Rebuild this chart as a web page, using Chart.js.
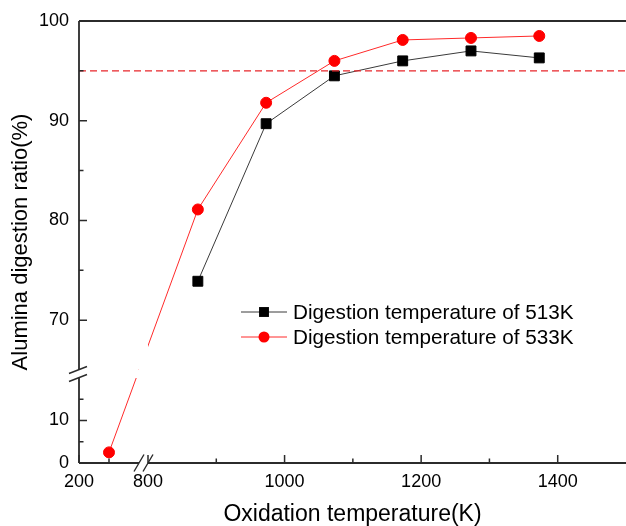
<!DOCTYPE html>
<html>
<head>
<style>
  html, body { margin: 0; padding: 0; background: #fff; }
  canvas { display: block; }
</style>
<title>Alumina digestion ratio</title>
</head>
<body>
<canvas id="chart" width="626" height="526"></canvas>
<script src="https://cdn.jsdelivr.net/npm/chart.js@4/dist/chart.umd.min.js"></script>
<script>
// oxidation temperatures (K) and digestion ratios (%)
var temps513 = [873, 973, 1073, 1173, 1273, 1373];
var ratio513 = [73.9, 89.7, 94.5, 96.0, 97.0, 96.3];
var temps533 = [300, 873, 973, 1073, 1173, 1273, 1373];
var ratio533 = [2.5, 81.1, 91.8, 96.0, 98.1, 98.3, 98.5];
var targetRatio = 95;

var xTickLabels = [200, 800, 1000, 1200, 1400];
var xMinorTicks = [300, 900, 1100, 1300];
var yTickLabels = [0, 10, 70, 80, 90, 100];
var yMinorTicks = [5, 15, 75, 85, 95];

var seriesNames = ['Digestion temperature of 513K', 'Digestion temperature of 533K'];

// broken axes: value ranges with relative lengths, gap = break
var axisSegments = {
  x: [{from: 200, to: 400, weight: 60}, {gap: true, weight: 9}, {from: 800, to: 1500, weight: 478}],
  y: [{from: 0, to: 20, weight: 85}, {gap: true, weight: 8}, {from: 65, to: 100, weight: 349}]
};

class BrokenScale extends Chart.LinearScale {
  segs() { return axisSegments[this.id]; }
  total() { return this.segs().reduce(function (s, g) { return s + g.weight; }, 0); }
  buildTicks() {
    var vals = this.id === 'x' ? xTickLabels : yTickLabels;
    return vals.map(function (v) { return {value: v}; });
  }
  getPixelForValue(value) {
    var segs = this.segs(), acc = 0, ranges = segs.filter(function (g) { return !g.gap; });
    var last = ranges[ranges.length - 1];
    for (var i = 0; i < segs.length; i++) {
      var g = segs[i];
      if (g.gap) { acc += g.weight; continue; }
      if (value <= g.to || g === last) {
        var f = Math.min(1, Math.max(0, (value - g.from) / (g.to - g.from)));
        return this.getPixelForDecimal((acc + f * g.weight) / this.total());
      }
      acc += g.weight;
    }
  }
  getValueForPixel(pixel) {
    var off = this.getDecimalForPixel(pixel) * this.total(), segs = this.segs(), acc = 0;
    for (var i = 0; i < segs.length; i++) {
      var g = segs[i];
      if (off <= acc + g.weight || i === segs.length - 1) {
        if (g.gap) return segs[i + 1].from;
        return g.from + (off - acc) / g.weight * (g.to - g.from);
      }
      acc += g.weight;
    }
  }
  // pixel span of the break on this axis
  gapPixels() {
    var segs = this.segs(), acc = 0, tot = this.total();
    for (var i = 0; i < segs.length; i++) {
      if (segs[i].gap) {
        return [this.getPixelForDecimal(acc / tot), this.getPixelForDecimal((acc + segs[i].weight) / tot)];
      }
      acc += segs[i].weight;
    }
  }
}
BrokenScale.id = 'broken';
BrokenScale.defaults = Chart.LinearScale.defaults;
Chart.register(BrokenScale);

var axisColor = '#2b2b2b';

var decorations = {
  id: 'decorations',
  afterDatasetsDraw: function (chart) {
    var ctx = chart.ctx, a = chart.chartArea;
    var xs = chart.scales.x, ys = chart.scales.y;
    var xg = xs.gapPixels(), yg = ys.gapPixels();
    ctx.save();
    // blank the data lines inside the breaks
    ctx.fillStyle = '#fff';
    ctx.fillRect(xg[0], a.top + 2, xg[1] - xg[0], a.bottom - a.top);
    ctx.fillRect(a.left + 2, yg[1], a.right - a.left, yg[0] - yg[1]);

    // reference line
    var yT = ys.getPixelForValue(targetRatio);
    ctx.strokeStyle = '#e8262b';
    ctx.lineWidth = 1.3;
    ctx.setLineDash([7, 4]);
    ctx.beginPath();
    ctx.moveTo(a.left, yT);
    ctx.lineTo(a.right, yT);
    ctx.stroke();
    ctx.setLineDash([]);

    // axes
    ctx.strokeStyle = axisColor;
    ctx.lineWidth = 1.8;
    ctx.beginPath();
    ctx.moveTo(a.left, a.top); ctx.lineTo(a.right, a.top);
    ctx.moveTo(a.left, a.top); ctx.lineTo(a.left, yg[1]);
    ctx.moveTo(a.left, yg[0]); ctx.lineTo(a.left, a.bottom);
    ctx.moveTo(a.left, a.bottom); ctx.lineTo(xg[0], a.bottom);
    ctx.moveTo(xg[1], a.bottom); ctx.lineTo(a.right, a.bottom);
    ctx.stroke();

    // break marks
    ctx.lineWidth = 1.4;
    ctx.beginPath();
    [yg[0], yg[1]].forEach(function (y) {
      ctx.moveTo(a.left - 10, y + 3.5); ctx.lineTo(a.left + 8, y - 3.5);
    });
    [xg[0], xg[1]].forEach(function (x) {
      ctx.moveTo(x - 5, a.bottom + 8.5); ctx.lineTo(x + 5, a.bottom - 8.5);
    });
    ctx.stroke();

    // ticks (inward)
    ctx.lineWidth = 1.5;
    ctx.beginPath();
    xTickLabels.forEach(function (v) { var x = xs.getPixelForValue(v); ctx.moveTo(x, a.bottom); ctx.lineTo(x, a.bottom - 8); });
    xMinorTicks.forEach(function (v) { var x = xs.getPixelForValue(v); ctx.moveTo(x, a.bottom); ctx.lineTo(x, a.bottom - 4.5); });
    yTickLabels.forEach(function (v) { var y = ys.getPixelForValue(v); ctx.moveTo(a.left, y); ctx.lineTo(a.left + 8, y); });
    yMinorTicks.forEach(function (v) { var y = ys.getPixelForValue(v); ctx.moveTo(a.left, y); ctx.lineTo(a.left + 4.5, y); });
    ctx.stroke();

    // legend
    var rows = [312, 337];
    ctx.font = '20.7px "Liberation Sans", Arial, sans-serif';
    ctx.textBaseline = 'middle';
    chart.data.datasets.forEach(function (ds, i) {
      var y = rows[i];
      ctx.strokeStyle = ds.borderColor;
      ctx.lineWidth = 1;
      ctx.beginPath(); ctx.moveTo(241, y); ctx.lineTo(287, y); ctx.stroke();
      ctx.fillStyle = ds.pointBackgroundColor;
      ctx.beginPath();
      if (ds.pointStyle === 'rect') {
        var s = ds.pointRadius * Math.SQRT1_2;
        ctx.rect(264 - s, y - s, 2 * s, 2 * s);
      } else {
        ctx.arc(264, y, ds.pointRadius, 0, Math.PI * 2);
      }
      ctx.fill();
      ctx.fillStyle = '#000';
      ctx.fillText(seriesNames[i], 293, y + 1);
    });
    ctx.restore();
  }
};

var font = {family: '"Liberation Sans", Arial, sans-serif', size: 18};

new Chart(document.getElementById('chart').getContext('2d'), {
  type: 'line',
  data: {
    datasets: [
      {
        label: seriesNames[0],
        data: temps513.map(function (t, i) { return {x: t, y: ratio513[i]}; }),
        borderColor: '#3a3a3a',
        borderWidth: 1,
        pointStyle: 'rect',
        pointRadius: 7,
        pointBackgroundColor: '#000',
        pointBorderColor: '#000',
        pointBorderWidth: 1,
        tension: 0
      },
      {
        label: seriesNames[1],
        data: temps533.map(function (t, i) { return {x: t, y: ratio533[i]}; }),
        borderColor: '#ff2a2a',
        borderWidth: 1,
        pointStyle: 'circle',
        pointRadius: 5.5,
        pointBackgroundColor: '#ff0000',
        pointBorderColor: '#ff0000',
        pointBorderWidth: 1,
        tension: 0
      }
    ]
  },
  options: {
    responsive: false,
    animation: false,
    layout: {autoPadding: false, padding: {top: 21, right: 0, left: 0, bottom: 0}},
    plugins: {legend: {display: false}, tooltip: {enabled: false}},
    scales: {
      x: {
        type: 'broken',
        min: 200, max: 1500,
        afterFit: function (s) { s.height = 63; s.paddingLeft = 0; s.paddingRight = 0; },
        grid: {display: false, drawTicks: false},
        border: {display: false},
        ticks: {autoSkip: false, maxRotation: 0, padding: 8, color: '#000', font: font,
                callback: function (v) { return String(v); }},
        title: {display: true, text: 'Oxidation temperature(K)', color: '#000',
                font: {family: font.family, size: 23, lineHeight: 1}, padding: {top: 0, bottom: 0}}
      },
      y: {
        type: 'broken',
        min: 0, max: 100,
        afterFit: function (s) { s.width = 79; s.paddingTop = 0; s.paddingBottom = 0; },
        grid: {display: false, drawTicks: false},
        border: {display: false},
        ticks: {autoSkip: false, padding: 10, color: '#000', font: font,
                callback: function (v) { return String(v); }},
        title: {display: true, text: 'Alumina digestion ratio(%)', color: '#000',
                font: {family: font.family, size: 22, lineHeight: 1}, padding: {top: 10, bottom: 0}}
      }
    }
  },
  plugins: [decorations]
});
</script>
</body>
</html>
